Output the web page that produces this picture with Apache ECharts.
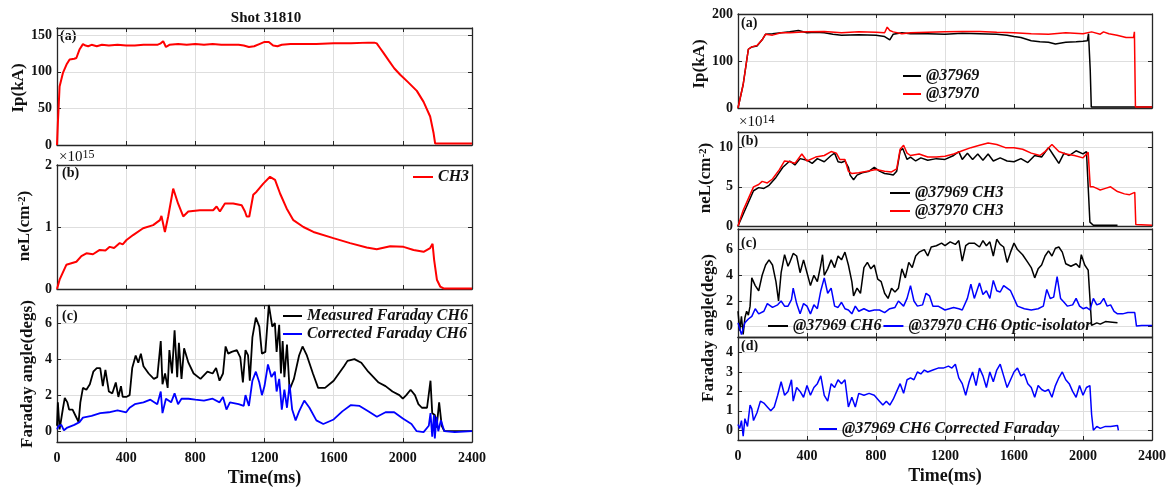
<!DOCTYPE html>
<html>
<head>
<meta charset="utf-8">
<script src="https://cdn.jsdelivr.net/npm/echarts@6/dist/echarts.min.js"></script>
<style>
  html, body { margin: 0; padding: 0; background: #fff; }
  #chart { width: 1173px; height: 488px; }
</style>
</head>
<body>
<div id="chart"></div>
<script>
// ---- data: [time(ms), value] ----
// shot 31810
const ipShot31810 = [[0,0],[5,30],[15,80],[35,99],[55,110],[73,117],[100,118],[112,119],[131,131],[150,138],[165,136],[180,135],[200,137],[230,135],[260,137],[300,136],[350,137],[400,136],[450,136],[500,137],[550,137],[580,137],[600,139],[614,142],[630,134],[650,137],[700,138],[750,137],[800,138],[850,137],[900,138],[950,137],[1000,137],[1050,137],[1080,136],[1110,134],[1140,135],[1170,138],[1200,141],[1225,141],[1250,136],[1275,135],[1300,137],[1350,138],[1400,138],[1500,138],[1600,139],[1700,139],[1800,140],[1835,140],[1849,139],[1870,132],[1888,126],[1920,115],[1950,105],[1985,96],[2030,86],[2081,74],[2120,59],[2158,39],[2178,16],[2187,2],[2250,2],[2400,2]];
const neShot31810 = [[0,0],[15,0.15],[54,0.39],[112,0.44],[141,0.53],[170,0.575],[208,0.56],[247,0.63],[280,0.62],[305,0.68],[330,0.66],[363,0.74],[380,0.72],[402,0.79],[440,0.87],[498,0.98],[556,1.03],[595,1.11],[604,1.18],[624,0.92],[643,1.17],[672,1.62],[681,1.65],[700,1.38],[730,1.17],[759,1.25],[826,1.27],[903,1.27],[923,1.33],[942,1.25],[971,1.38],[1019,1.38],[1068,1.35],[1087,1.25],[1097,1.17],[1112,1.17],[1135,1.52],[1154,1.57],[1193,1.70],[1232,1.81],[1261,1.76],[1290,1.54],[1328,1.30],[1367,1.11],[1425,1.0],[1483,0.92],[1598,0.82],[1695,0.74],[1791,0.67],[1849,0.64],[1927,0.69],[2004,0.68],[2062,0.63],[2120,0.60],[2158,0.66],[2172,0.73],[2181,0.47],[2197,0.15],[2216,0.04],[2236,0.01],[2300,0.01],[2400,0.01]];
const faradayMeasured31810 = [[0,0.3],[5,1.6],[15,0.1],[25,0.2],[35,1.3],[45,1.85],[60,1.6],[70,1.2],[90,1.2],[110,0.8],[125,0.5],[135,1.6],[150,2.4],[170,2.3],[190,2.6],[210,3.3],[230,3.5],[250,3.5],[265,2.5],[280,3.4],[300,2.2],[320,2.1],[340,2.7],[355,1.9],[370,2.5],[380,1.9],[400,1.9],[420,2.0],[435,3.5],[455,4.2],[470,3.8],[485,4.3],[500,3.6],[530,3.2],[560,2.9],[580,3.0],[600,5.0],[610,2.6],[625,3.2],[640,2.4],[650,4.5],[665,3.2],[680,5.6],[695,3.0],[705,4.9],[720,2.9],[735,4.6],[760,3.8],[790,3.2],[830,2.9],[870,3.3],[900,3.2],[920,3.5],[940,2.8],[960,3.2],[975,4.7],[990,4.3],[1010,4.4],[1040,4.5],[1060,4.1],[1075,2.7],[1090,4.5],[1105,4.2],[1115,2.8],[1130,5.2],[1150,6.3],[1170,5.8],[1185,4.3],[1205,4.4],[1225,7.0],[1245,5.8],[1260,6.0],[1270,4.4],[1285,5.9],[1295,3.2],[1305,5.0],[1315,3.0],[1330,4.8],[1345,2.3],[1370,2.9],[1400,4.2],[1420,4.7],[1445,4.2],[1480,3.2],[1510,2.4],[1550,2.4],[1600,2.8],[1630,3.2],[1660,3.6],[1680,3.9],[1720,4.0],[1760,3.8],[1800,3.3],[1830,3.0],[1860,2.7],[1900,2.5],[1940,2.2],[1980,2.0],[2000,1.8],[2020,2.0],[2045,2.3],[2070,2.0],[2090,1.5],[2110,1.3],[2140,1.3],[2160,2.8],[2170,1.0],[2185,0.9],[2195,0.2],[2210,1.6],[2225,0.3],[2240,0.0],[2400,0.0]];
const faradayCorrected31810 = [[0,0.1],[10,0.3],[25,0.35],[40,0.05],[60,0.2],[100,0.35],[130,0.5],[150,0.75],[200,0.85],[250,1.0],[300,1.05],[350,1.15],[400,1.05],[420,1.3],[450,1.5],[500,1.6],[540,1.75],[580,1.5],[600,2.2],[610,1.0],[630,1.8],[660,1.6],[680,2.1],[700,1.5],[720,1.8],[760,1.8],[800,1.75],[850,1.7],[900,1.8],[940,1.6],[960,1.9],[980,1.2],[1000,1.6],[1050,1.5],[1080,1.4],[1090,2.0],[1110,1.4],[1130,2.8],[1150,3.3],[1170,2.7],[1185,2.0],[1200,2.5],[1220,3.7],[1240,3.0],[1260,3.3],[1270,2.2],[1285,2.9],[1300,1.2],[1315,2.3],[1330,1.3],[1345,2.6],[1360,1.2],[1380,0.6],[1400,1.1],[1430,1.7],[1460,1.3],[1500,0.6],[1540,0.4],[1600,0.65],[1650,1.1],[1700,1.45],[1750,1.4],[1800,1.1],[1850,0.8],[1900,1.05],[1950,1.05],[2000,0.7],[2050,0.4],[2080,0.0],[2120,-0.05],[2150,0.3],[2160,1.0],[2170,-0.3],[2180,0.9],[2185,-0.4],[2195,0.8],[2205,0.0],[2220,0.6],[2240,0.0],[2300,-0.05],[2400,0.0]];

// shots 37969 / 37970
const ip37969 = [[0,0],[30,50],[50,100],[60,125],[80,130],[110,132],[140,145],[160,157],[200,158],[250,160],[300,162],[350,165],[400,160],[450,161],[500,160],[550,157],[600,155],[700,156],[800,155],[850,152],[880,145],[900,157],[950,160],[1000,158],[1100,158],[1200,157],[1300,159],[1400,158],[1500,157],[1560,155],[1600,152],[1640,150],[1700,143],[1750,141],[1800,140],[1840,136],[1900,140],[1960,141],[2000,142],[2025,143],[2032,158],[2042,80],[2048,2],[2200,2],[2400,2]];
const ip37970 = [[0,0],[30,50],[50,100],[60,125],[80,130],[110,133],[140,145],[160,157],[200,155],[250,160],[300,160],[400,162],[500,163],[600,160],[700,162],[800,161],[850,160],[865,172],[880,165],[900,162],[950,158],[1000,160],[1100,161],[1200,162],[1300,163],[1400,163],[1500,161],[1600,160],[1700,158],[1800,157],[1900,160],[2000,158],[2050,162],[2100,157],[2119,162],[2150,158],[2197,155],[2250,150],[2293,150],[2298,162],[2304,2],[2400,2]];
const ne37969 = [[0,0],[30,1.5],[60,3],[90,4.5],[120,4.9],[150,4.8],[180,5.2],[220,6.2],[260,7.5],[300,8.3],[330,7.8],[360,8.6],[400,8.4],[430,8.0],[460,8.6],[500,8.2],[540,9.0],[560,9.3],[580,8.2],[600,8.1],[620,8.3],[640,7.5],[650,6.5],[670,5.9],[690,6.5],[720,6.8],[760,7.0],[790,7.5],[820,7.0],[850,6.7],[880,6.6],[900,6.5],[920,7.0],[940,9.6],[955,9.9],[980,8.5],[1000,8.8],[1030,8.3],[1060,8.7],[1100,8.4],[1150,8.6],[1200,8.5],[1250,9.0],[1280,9.5],[1300,8.5],[1330,9.3],[1360,8.5],[1390,9.2],[1420,8.4],[1450,9.2],[1480,8.3],[1520,8.7],[1560,8.3],[1600,8.2],[1640,8.6],[1680,8.1],[1720,9.0],[1760,8.8],[1800,10.0],[1830,9.0],[1860,8.0],[1890,9.3],[1920,9.0],[1960,9.6],[2000,9.2],[2020,9.5],[2030,5.0],[2040,0.5],[2060,0.1],[2200,0.1]];
const ne37970 = [[0,0],[30,2],[60,3.5],[90,5],[120,5.3],[140,5.7],[170,5.5],[200,6.0],[240,7.2],[270,8.3],[300,8.2],[330,8.0],[370,9.2],[400,8.3],[450,8.8],[500,9.0],[540,9.5],[570,9.3],[590,8.5],[620,8.5],[640,7.0],[660,6.7],[700,6.8],[750,7.0],[800,7.2],[850,7.0],[890,6.9],[920,7.3],[940,9.8],[960,10.3],[980,9.3],[1000,9.0],[1050,9.2],[1100,8.8],[1150,8.8],[1200,8.9],[1250,9.2],[1300,9.6],[1350,10.0],[1400,10.3],[1450,10.6],[1500,10.4],[1550,10.0],[1600,10.0],[1650,9.8],[1700,9.3],[1750,9.0],[1780,9.5],[1820,10.4],[1860,9.5],[1900,9.2],[1950,9.0],[2000,8.7],[2030,9.4],[2042,5.0],[2060,5.0],[2080,4.8],[2100,4.6],[2130,4.8],[2160,5.0],[2200,4.4],[2240,4.1],[2270,4.0],[2300,4.3],[2306,0.2],[2400,0.1]];
const faraday37969 = [[0,1.2],[10,-0.3],[20,0.8],[30,-0.6],[40,0.7],[50,1.2],[60,0.9],[70,1.6],[80,3.8],[100,3.2],[120,2.8],[140,4.0],[160,4.8],[180,5.2],[200,4.8],[220,3.5],[235,2.0],[250,4.2],[270,5.6],[290,4.7],[300,5.0],[320,5.7],[340,5.5],[360,4.2],[380,5.2],[400,4.2],[420,3.2],[440,4.0],[460,3.5],[480,4.8],[490,5.6],[500,4.0],[520,4.5],[540,5.2],[560,4.6],[580,5.5],[600,5.2],[620,5.8],[640,4.8],[660,3.5],[670,2.4],[690,3.0],[710,2.6],[730,4.6],[750,5.0],[770,4.5],[790,4.8],[810,3.7],[830,3.5],[850,2.6],[870,2.2],[890,3.0],[910,2.7],[930,3.0],[950,4.5],[970,3.8],[990,5.0],[1010,4.6],[1030,5.5],[1050,5.8],[1080,6.0],[1100,5.5],[1120,6.2],[1150,6.3],[1180,6.5],[1200,6.3],[1230,6.6],[1260,6.4],[1280,6.7],[1300,5.1],[1320,6.3],[1340,6.5],[1370,6.5],[1400,6.2],[1420,6.7],[1440,6.3],[1460,6.6],[1480,5.5],[1500,6.8],[1520,6.4],[1540,6.2],[1560,5.0],[1580,5.8],[1600,6.5],[1620,6.0],[1650,5.6],[1680,5.0],[1700,4.6],[1720,3.8],[1740,4.5],[1760,4.8],[1780,5.5],[1800,5.9],[1820,5.5],[1840,6.1],[1860,6.2],[1880,5.8],[1900,4.9],[1930,4.7],[1960,4.9],[1980,4.6],[1990,5.6],[2010,4.8],[2030,4.4],[2040,4.5],[2050,0.1],[2080,0.3],[2100,0.2],[2130,0.4],[2170,0.35],[2200,0.3]];
const faraday37970 = [[0,0.3],[20,-0.6],[40,0.3],[60,0.6],[80,0.8],[100,1.4],[120,1.0],[150,1.2],[170,1.8],[200,1.5],[230,1.7],[250,2.0],[270,1.6],[290,1.6],[310,2.1],[320,3.0],[340,1.8],[360,1.0],[380,1.8],[400,1.6],[420,1.0],[440,1.7],[460,1.4],[480,2.8],[500,3.8],[520,2.6],[540,3.0],[560,1.6],[580,1.5],[600,1.9],[620,1.4],[640,1.3],[660,1.0],[680,1.6],[700,1.2],[730,1.4],[760,1.2],[790,1.3],[820,1.3],[850,1.1],[880,1.4],[910,1.5],[930,2.0],[960,1.6],[980,2.2],[1000,3.2],[1020,2.0],[1040,1.6],[1070,1.7],[1090,2.6],[1110,2.4],[1130,1.6],[1160,1.6],[1200,1.3],[1250,1.5],[1280,1.4],[1300,1.3],[1330,2.2],[1350,3.3],[1370,2.2],[1400,3.4],[1420,2.5],[1440,2.8],[1460,2.2],[1480,3.6],[1500,2.8],[1520,2.7],[1540,3.2],[1560,3.0],[1580,2.8],[1600,2.2],[1620,1.6],[1660,1.4],[1700,1.3],[1740,1.4],[1770,1.6],[1790,2.9],[1810,2.2],[1830,2.3],[1850,3.9],[1870,2.2],[1890,1.9],[1910,1.6],[1940,1.7],[1960,2.2],[1980,1.6],[2000,1.4],[2020,1.5],[2040,1.3],[2060,2.2],[2080,1.7],[2100,1.8],[2120,2.2],[2140,1.6],[2160,1.7],[2180,1.2],[2200,1.0],[2230,1.0],[2260,1.1],[2300,1.1],[2310,0.05],[2340,0.1],[2400,0.1]];
const faradayCorrected37969 = [[0,0.3],[10,0.1],[20,0.5],[30,-0.3],[40,0.6],[55,0.2],[70,1.3],[80,1.1],[90,0.5],[110,0.9],[130,1.5],[150,1.4],[170,1.2],[190,1.0],[210,1.2],[230,1.8],[250,2.5],[270,1.8],[290,2.0],[310,2.6],[320,1.5],[340,2.2],[360,2.0],[380,1.7],[400,2.3],[420,1.8],[440,2.2],[460,2.4],[480,2.8],[500,1.8],[520,1.5],[540,2.4],[560,2.2],[580,2.6],[600,2.4],[620,2.6],[640,1.2],[660,1.7],[680,1.2],[700,1.9],[730,1.8],[760,1.9],[790,1.8],[820,1.5],[840,1.3],[860,1.5],[880,1.3],[900,1.6],[920,2.0],[940,2.4],[960,1.9],[980,2.6],[1000,2.7],[1020,2.6],[1040,3.0],[1060,2.9],[1080,3.1],[1100,3.0],[1130,3.1],[1160,3.2],[1190,3.2],[1220,3.3],[1240,3.2],[1260,3.4],[1280,2.7],[1300,2.4],[1320,1.8],[1340,2.5],[1360,3.0],[1380,2.3],[1400,3.2],[1420,2.8],[1440,2.2],[1460,3.0],[1480,2.5],[1500,3.1],[1520,3.4],[1540,2.8],[1560,2.2],[1580,2.6],[1600,3.0],[1620,3.2],[1640,2.8],[1660,2.9],[1680,2.4],[1700,2.2],[1720,1.7],[1740,2.3],[1760,2.1],[1780,2.0],[1800,2.1],[1820,1.7],[1840,2.3],[1860,2.7],[1880,3.0],[1900,2.6],[1920,2.4],[1940,2.0],[1960,1.7],[1980,2.3],[2000,1.8],[2020,2.2],[2040,2.3],[2050,0.8],[2060,0.0],[2080,0.2],[2100,0.1],[2130,0.2],[2160,0.2],[2200,0.25],[2205,0.0]];

// tick labels
const timeTicks = [0, 400, 800, 1200, 1600, 2000, 2400];
const ipTicksLeft = [0, 50, 100, 150];
const neTicksLeft = [0, 1, 2];
const faradayTicksLeft = [0, 2, 4, 6];
const ipTicksRight = [0, 100, 200];
const neTicksRight = [0, 5, 10];
const faradayTicksRight = [0, 2, 4, 6];
const faradayCorrTicksRight = [0, 1, 2, 3, 4];

// ---- layout ----
const FONT = "'Liberation Serif','Times New Roman',serif";
const AXIS = '#262626';
const GRIDLINE = '#dedede';

const panels = [
  { left: 57,  top: 28,  width: 415, height: 117, y: [0, 160],    ticks: ipTicksLeft },
  { left: 57,  top: 165, width: 415, height: 124, y: [0, 2],      ticks: neTicksLeft },
  { left: 57,  top: 305, width: 415, height: 142, y: [-0.6, 7],   ticks: faradayTicksLeft, bottom: true },
  { left: 738, top: 14,  width: 414, height: 94,  y: [0, 200],    ticks: ipTicksRight },
  { left: 738, top: 132, width: 414, height: 94,  y: [0, 12],     ticks: neTicksRight },
  { left: 738, top: 229, width: 414, height: 108, y: [-0.8, 7.6], ticks: faradayTicksRight },
  { left: 738, top: 337, width: 414, height: 103, y: [-0.5, 4.8], ticks: faradayCorrTicksRight, bottom: true }
];

const grid = [], xAxis = [], yAxis = [];
const tickLabel = { color: '#111', fontFamily: FONT, fontWeight: 'bold', fontSize: 14, formatter: v => String(v) };
panels.forEach((p, i) => {
  grid.push({ left: p.left, top: p.top, width: p.width, height: p.height, show: false });
  const line = { show: true, onZero: false, lineStyle: { color: AXIS, width: 1.3 } };
  const tick = { show: true, inside: true, length: 4, lineStyle: { color: AXIS }, customValues: timeTicks };
  xAxis.push({
    type: 'value', gridIndex: i, min: 0, max: 2400, position: 'bottom',
    axisLine: line, axisTick: tick,
    axisLabel: Object.assign({ show: !!p.bottom, margin: 9, customValues: timeTicks }, tickLabel),
    splitLine: { show: true, lineStyle: { color: GRIDLINE, width: 1 } },
    name: p.bottom ? 'Time(ms)' : '', nameLocation: 'middle', nameGap: 27,
    nameTextStyle: { color: '#111', fontFamily: FONT, fontWeight: 'bold', fontSize: 18 }
  });
  xAxis.push({
    type: 'value', gridIndex: i, min: 0, max: 2400, position: 'top',
    axisLine: line, axisTick: tick, axisLabel: { show: false }, splitLine: { show: false }
  });
  const ytick = { show: true, inside: true, length: 4, lineStyle: { color: AXIS }, customValues: p.ticks };
  yAxis.push({
    type: 'value', gridIndex: i, min: p.y[0], max: p.y[1], position: 'left',
    axisLine: line, axisTick: ytick,
    axisLabel: Object.assign({ margin: 5, customValues: p.ticks }, tickLabel),
    splitLine: { show: true, lineStyle: { color: GRIDLINE, width: 1 } }
  });
  yAxis.push({
    type: 'value', gridIndex: i, min: p.y[0], max: p.y[1], position: 'right',
    axisLine: line, axisTick: ytick, axisLabel: { show: false }, splitLine: { show: false }
  });
});

function lineSeries(name, data, panel, color, width) {
  return {
    name, type: 'line', data, xAxisIndex: panel * 2, yAxisIndex: panel * 2,
    symbol: 'none', showSymbol: false, color,
    lineStyle: { color, width }, animation: false, silent: true
  };
}

const series = [
  lineSeries('Ip31810', ipShot31810, 0, '#ff0000', 2),
  lineSeries('CH3', neShot31810, 1, '#ff0000', 2),
  lineSeries('Measured Faraday CH6', faradayMeasured31810, 2, '#000000', 1.8),
  lineSeries('Corrected Faraday CH6', faradayCorrected31810, 2, '#0000ff', 1.8),
  lineSeries('@37969', ip37969, 3, '#000000', 1.5),
  lineSeries('@37970', ip37970, 3, '#ff0000', 1.5),
  lineSeries('@37969 CH3', ne37969, 4, '#000000', 1.5),
  lineSeries('@37970 CH3', ne37970, 4, '#ff0000', 1.5),
  lineSeries('@37969 CH6', faraday37969, 5, '#000000', 1.5),
  lineSeries('@37970 CH6 Optic-isolator', faraday37970, 5, '#0000ff', 1.5),
  lineSeries('@37969 CH6 Corrected Faraday', faradayCorrected37969, 6, '#0000ff', 1.5)
];

const legendText = { color: '#111', fontFamily: FONT, fontWeight: 'bold', fontStyle: 'italic', fontSize: 16 };
function legend(data, left, top, orient, itemWidth) {
  return {
    data, left, top, orient: orient || 'vertical', icon: 'rect', itemWidth: itemWidth || 20, itemHeight: 2,
    itemGap: orient === 'horizontal' ? 2 : 2, padding: 0, textStyle: legendText, selectedMode: false
  };
}
const legends = [
  legend(['CH3'], 413, 169, 'vertical', 20),
  legend(['Measured Faraday CH6', 'Corrected Faraday CH6'], 283, 308, 'vertical', 19),
  legend(['@37969', '@37970'], 903, 68, 'vertical', 18),
  legend(['@37969 CH3', '@37970 CH3'], 890, 185, 'vertical', 20),
  legend(['@37969 CH6', '@37970 CH6 Optic-isolator'], 768, 318, 'horizontal', 20),
  legend(['@37969 CH6 Corrected Faraday'], 819, 421, 'vertical', 18)
];

const rich = {
  n: { fontFamily: FONT, fontWeight: 'bold', fontSize: 17, fill: '#111' },
  s: { fontFamily: FONT, fontWeight: 'bold', fontSize: 11, fill: '#111', verticalAlign: 'top', padding: [0, 0, 6, 0] }
};
const richSmall = {
  n: { fontFamily: FONT, fontSize: 15, fill: '#111' },
  s: { fontFamily: FONT, fontSize: 12, fill: '#111', verticalAlign: 'top', padding: [0, 0, 5, 0] }
};
function label(text, x, y, size, opts) {
  opts = opts || {};
  return {
    type: 'text', x, y, rotation: opts.rot || 0, silent: true,
    style: {
      text, fill: '#111', fontFamily: FONT, fontWeight: opts.normal ? 'normal' : 'bold', fontSize: size,
      textAlign: opts.align || 'center', textVerticalAlign: 'middle', rich: opts.rich
    }
  };
}
const R = Math.PI / 2;
const graphics = [
  label('Shot 31810', 266, 18, 15),
  label('(a)', 60, 36, 14, { align: 'left' }),
  label('(b)', 62, 173, 14, { align: 'left' }),
  label('(c)', 62, 316, 14, { align: 'left' }),
  label('(a)', 741, 23, 14, { align: 'left' }),
  label('(b)', 741, 141, 14, { align: 'left' }),
  label('(c)', 741, 243, 14, { align: 'left' }),
  label('(d)', 741, 346, 14, { align: 'left' }),
  label('{n|×10}{s|15}', 59, 157, 15, { align: 'left', rich: richSmall, normal: true }),
  label('{n|×10}{s|14}', 739, 122, 15, { align: 'left', rich: richSmall, normal: true }),
  label('Ip(kA)', 19, 88, 17, { rot: R }),
  label('{n|neL(cm}{s|-2}{n|)}', 25, 226, 17, { rot: R, rich }),
  label('Faraday angle(degs)', 28, 374, 17, { rot: R }),
  label('Ip(kA)', 700, 64, 17, { rot: R }),
  label('{n|neL(cm}{s|-2}{n|)}', 706, 178, 17, { rot: R, rich }),
  label('Faraday angle(degs)', 709, 328, 17, { rot: R })
];

const chart = echarts.init(document.getElementById('chart'), null, { renderer: 'canvas' });
chart.setOption({
  animation: false,
  backgroundColor: '#fff',
  grid, xAxis, yAxis, series,
  legend: legends,
  graphic: graphics
});
</script>
</body>
</html>
